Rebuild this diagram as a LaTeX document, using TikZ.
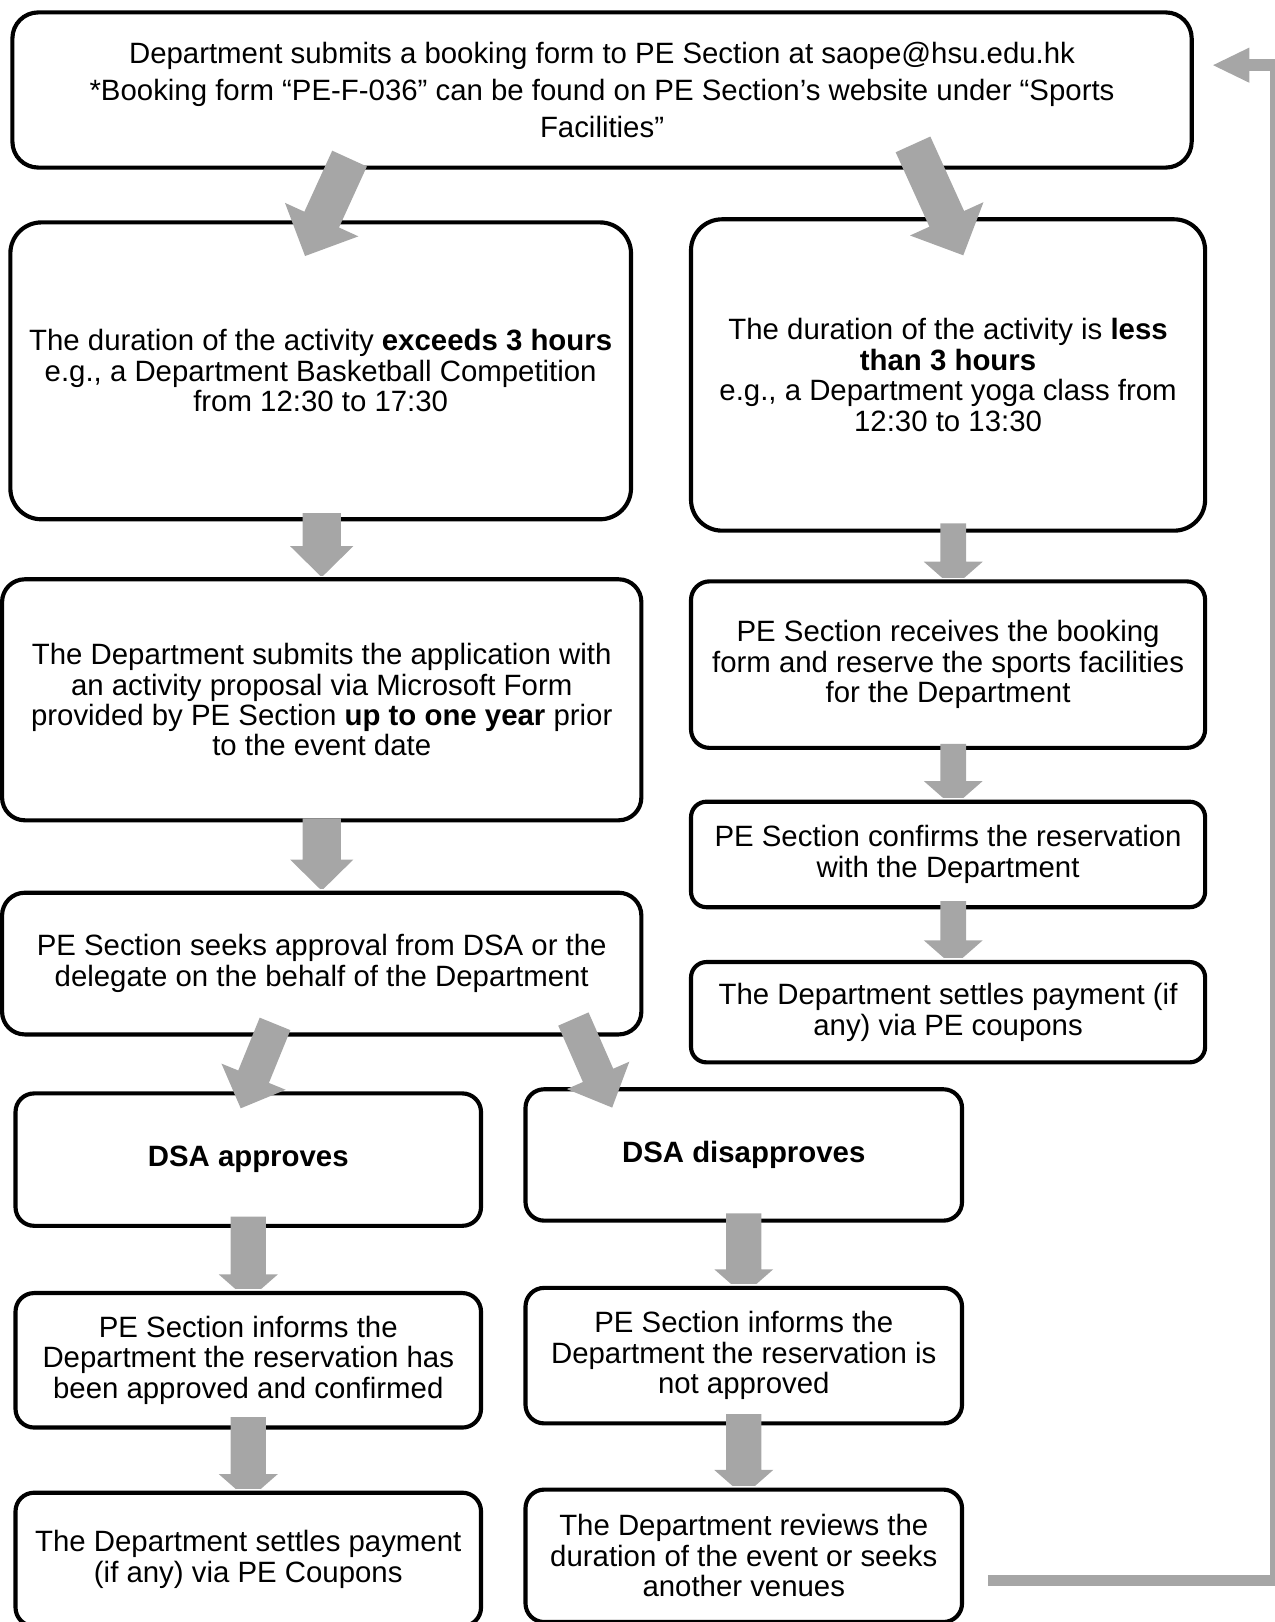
\documentclass[tikz,border=0pt]{standalone}
\usepackage{fontspec}
\setmainfont{Liberation Sans}
\usetikzlibrary{calc}
\definecolor{arrowgray}{HTML}{A6A6A6}
\newcommand\blockarrow[5]{%
  \coordinate (ba-s) at #1;
  \coordinate (ba-e) at #2;
  \coordinate (ba-c) at ($(ba-e)!#5!(ba-s)$);
  \fill[arrowgray] ($(ba-s)!#3!90:(ba-e)$) -- ($(ba-c)!#3!90:(ba-e)$) --
    ($(ba-c)!#4!90:(ba-e)$) -- (ba-e) -- ($(ba-c)!#4!-90:(ba-e)$) --
    ($(ba-c)!#3!-90:(ba-e)$) -- ($(ba-s)!#3!-90:(ba-e)$) -- cycle;
}
\newcommand\vblock[9]{% src, tgt, dx, startoff, tipoff, shafthalf, headhalf, headlen, unused
  \begin{scope}
    \clip ($(#2.north)+(-100,-2)$) rectangle ($(#1.south)+(100,-60)$);
    \blockarrow{($(#1.south -| #2.north)+(#3,#4)$)}{($(#2.north)+(#3,#5)$)}{#6}{#7}{#8}
  \end{scope}
}
\begin{document}
\begin{tikzpicture}[x=1pt,y=-1pt,
  box/.style={draw, line width=4pt, fill=white, rounded corners=18pt, align=center,
    inner sep=0pt, font=\fontsize{28.4}{29.4}\selectfont}]
\useasboundingbox (0,0) rectangle (1232,1568);

\node[box, rounded corners=25pt, minimum width=1140pt, minimum height=150pt,
  font=\fontsize{28.4}{36}\selectfont] (top) at (582,87)
  {Department submits a booking form to PE Section at saope@hsu.edu.hk\\{}*Booking form “PE-F-036” can be found on PE Section’s website under “Sports\\Facilities”};

\node[box, rounded corners=30pt, minimum width=600pt, minimum height=287pt] (b2) at (310,358.5)
  {The duration of the activity \textbf{exceeds 3 hours}\\e.g., a Department Basketball Competition\\from 12:30 to 17:30};
\node[box, rounded corners=30pt, minimum width=497pt, minimum height=301pt] (b3) at (916.5,362.5)
  {The duration of the activity is \textbf{less}\\\textbf{than 3 hours}\\e.g., a Department yoga class from\\12:30 to 13:30};
\node[box, rounded corners=22pt, minimum width=618pt, minimum height=233pt] (b4) at (311,676.5)
  {The Department submits the application with\\an activity proposal via Microsoft Form\\provided by PE Section \textbf{up to one year} prior\\to the event date};
\node[box, minimum width=497pt, minimum height=161pt] (b5) at (916.5,642.5)
  {PE Section receives the booking\\form and reserve the sports facilities\\for the Department};
\node[box, rounded corners=15pt, minimum width=497pt, minimum height=102pt] (b6) at (916.5,826)
  {PE Section confirms the reservation\\with the Department};
\node[box, rounded corners=15pt, minimum width=497pt, minimum height=97pt] (b7) at (916.5,978.5)
  {The Department settles payment (if\\any) via PE coupons};
\node[box, rounded corners=22pt, minimum width=618pt, minimum height=137pt] (b8) at (311,931.5)
  {PE Section seeks approval from DSA or the\\delegate on the behalf of the Department};
\node[box, minimum width=450pt, minimum height=128pt] (b9) at (240,1121)
  {\textbf{DSA approves}};
\node[box, minimum width=422pt, minimum height=127pt] (b10) at (719,1116.5)
  {\textbf{DSA disapproves}};
\node[box, minimum width=450pt, minimum height=130pt] (b11) at (240,1315)
  {PE Section informs the\\Department the reservation has\\been approved and confirmed};
\node[box, minimum width=422pt, minimum height=131pt] (b12) at (719,1310.5)
  {PE Section informs the\\Department the reservation is\\not approved};
\node[box, minimum width=450pt, minimum height=129pt] (b13) at (240,1507.5)
  {The Department settles payment\\(if any) via PE Coupons};
\node[box, minimum width=422pt, minimum height=128pt] (b14) at (719,1504)
  {The Department reviews the\\duration of the event or seeks\\another venues};

% vertical block arrows
\vblock{b2}{b4}{0}{-8}{0}{18.5pt}{30.5pt}{30pt}{}
\vblock{b4}{b8}{0}{-4}{0}{18.5pt}{30.5pt}{30pt}{}
\vblock{b3}{b5}{5}{-9}{8}{12.5pt}{28.5pt}{25pt}{}
\vblock{b5}{b6}{5}{-6}{7}{12.5pt}{28.5pt}{25pt}{}
\vblock{b6}{b7}{5}{-8}{6}{12.5pt}{28.5pt}{25pt}{}
\vblock{b9}{b11}{0}{-11}{9}{17pt}{28.5pt}{25pt}{}
\vblock{b11}{b13}{0}{-12}{9}{17pt}{28.5pt}{25pt}{}
\vblock{b10}{b12}{0}{-9}{9}{17pt}{28.5pt}{25pt}{}
\vblock{b12}{b14}{0}{-11}{8}{17pt}{28.5pt}{25pt}{}

% diagonal block arrows
\blockarrow{($(top.south west)+(327.9,-10.7)$)}{($(b2.north west)+(286.9,34.5)$)}{18.4pt}{39pt}{38.7pt}
\blockarrow{($(top.south west)+(872.6,-24.4)$)}{($(b3.north west)+(265.2,36.8)$)}{18.4pt}{39pt}{38.7pt}
\blockarrow{($(b8.south west)+(265.9,-12.2)$)}{($(b9.north west)+(219.7,16.4)$)}{16pt}{33.5pt}{33pt}
\blockarrow{($(b8.south west)+(554.3,-16.9)$)}{($(b10.north west)+(85.8,19.7)$)}{16pt}{33pt}{34pt}

% feedback connector
\coordinate (fbs) at ($(b14.east)+(23,24)$);
\coordinate (fbtip) at ($(top.east)+(18.7,-24)$);
\coordinate (fbx) at (1233,0);
\draw[arrowgray, line width=11pt, line join=miter] (fbs) -- (fbs -| fbx) -- (fbx |- fbtip) -- ($(fbtip)+(34,0)$);
\fill[arrowgray] (fbtip) -- ($(fbtip)+(35,-17)$) -- ($(fbtip)+(35,17)$) -- cycle;
\end{tikzpicture}
\end{document}
